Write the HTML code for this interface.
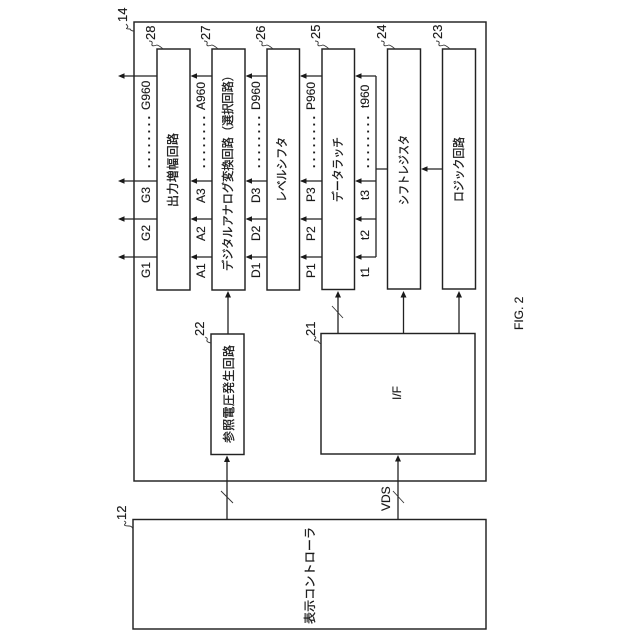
<!DOCTYPE html>
<html><head><meta charset="utf-8"><style>
html,body{margin:0;padding:0;background:#fff;width:640px;height:640px;overflow:hidden}
svg{display:block}
text{font-family:"Liberation Sans","Noto Sans CJK JP",sans-serif;fill:#1a1a1a;font-size:12px;stroke:#1a1a1a;stroke-width:.15}
.j{font-size:12px;stroke-width:.3}
.n{font-size:13px}
.d{font-weight:bold}
.b{fill:none;stroke:#222;stroke-width:1.45}
.l{stroke:#222;stroke-width:1.3;fill:none}
.s{stroke:#333;stroke-width:.9;fill:none}
polygon{fill:#1a1a1a}
</style></head><body>
<svg width="640" height="640" viewBox="0 0 640 640" xmlns="http://www.w3.org/2000/svg">
<rect class="b" x="134" y="22" width="352" height="459"/>
<rect class="b" x="157" y="49" width="33" height="241"/>
<rect class="b" x="212" y="49" width="33" height="241"/>
<rect class="b" x="267" y="49" width="32.500" height="241"/>
<rect class="b" x="322" y="49" width="32.500" height="240.500"/>
<rect class="b" x="387.500" y="49" width="33" height="240"/>
<rect class="b" x="442.500" y="49" width="33" height="240"/>
<rect class="b" x="321" y="333.500" width="154" height="120.500"/>
<rect class="b" x="211" y="334" width="33" height="120.500"/>
<rect class="b" x="133" y="519.500" width="353" height="109.500"/>

<!-- horizontal arrows -->
<path class="l" d="M157 76H120M157 181H120M157 219H120M157 257H120
M212 76H192M212 181H192M212 219H192M212 257H192
M267 76H247M267 181H247M267 219H247M267 257H247
M322 76H301M322 181H301M322 219H301M322 257H301
M376 76H357M376 181H357M376 219H357M376 257H357M376 76V257M376 169H387.500M442.500 169H423"/>
<polygon points="118,76 124.500,73.200 124.500,78.800"/><polygon points="118,181 124.500,178.200 124.500,183.800"/><polygon points="118,219 124.500,216.200 124.500,221.800"/><polygon points="118,257 124.500,254.200 124.500,259.800"/>
<polygon points="190.500,76 197,73.200 197,78.800"/><polygon points="190.500,181 197,178.200 197,183.800"/><polygon points="190.500,219 197,216.200 197,221.800"/><polygon points="190.500,257 197,254.200 197,259.800"/>
<polygon points="245.500,76 252,73.200 252,78.800"/><polygon points="245.500,181 252,178.200 252,183.800"/><polygon points="245.500,219 252,216.200 252,221.800"/><polygon points="245.500,257 252,254.200 252,259.800"/>
<polygon points="300,76 306.500,73.200 306.500,78.800"/><polygon points="300,181 306.500,178.200 306.500,183.800"/><polygon points="300,219 306.500,216.200 306.500,221.800"/><polygon points="300,257 306.500,254.200 306.500,259.800"/>
<polygon points="355,76 361.500,73.200 361.500,78.800"/><polygon points="355,181 361.500,178.200 361.500,183.800"/><polygon points="355,219 361.500,216.200 361.500,221.800"/><polygon points="355,257 361.500,254.200 361.500,259.800"/>
<polygon points="421,169 427.500,166.200 427.500,171.800"/>

<!-- vertical arrows -->
<path class="l" d="M228 334V296M338 333.500V296M403.500 333.500V296M459 333.500V296M227 519.500V460M398 519.500V459"/>
<polygon points="228,291 225,297.500 231,297.500"/><polygon points="338,291 335,297.500 341,297.500"/><polygon points="403.500,291 400.500,297.500 406.500,297.500"/><polygon points="459,291 456,297.500 462,297.500"/>
<polygon points="227,455.500 224,462 230,462"/><polygon points="398,455 395,461.500 401,461.500"/>
<path class="s" d="M332 306L343 318M221 491L233 503M393 491L404 503"/>

<!-- squiggles -->
<path class="s" d="M126 24q3 3 1 4t3 1q1 2 4 2M149 41q4 0 3 3t5 1q3 1 6 4M204 41q4 0 3 3t5 1q3 1 6 4M259 41q4 0 3 3t5 1q3 1 6 4M315 41q4 0 3 3t5 1q3 1 6 4M381 41q4 0 3 3t5 1q3 1 6 4M436 41q4 0 3 3t5 1q3 1 6 4M205 337q3 1 2 3t4 3M314 336q3 1 1 3t3 2q1 2 3 3M124 521q3 1 1 3t4 2q3 0 4 3"/>

<!-- reference numbers -->
<text class="n" transform="translate(127,22) rotate(-90)">14</text>
<text class="n" transform="translate(155,40) rotate(-90)">28</text>
<text class="n" transform="translate(210,40) rotate(-90)">27</text>
<text class="n" transform="translate(265,40) rotate(-90)">26</text>
<text class="n" transform="translate(320,39) rotate(-90)">25</text>
<text class="n" transform="translate(386,39) rotate(-90)">24</text>
<text class="n" transform="translate(442,39) rotate(-90)">23</text>
<text class="n" transform="translate(204,336) rotate(-90)">22</text>
<text class="n" transform="translate(315,336) rotate(-90)">21</text>
<text class="n" transform="translate(126,520) rotate(-90)">12</text>

<!-- block titles -->
<text class="j" transform="translate(177,207) rotate(-90)" textLength="74" lengthAdjust="spacing">出力増幅回路</text>
<text class="j" transform="translate(232,271) rotate(-90)" textLength="201" lengthAdjust="spacingAndGlyphs">デジタルアナログ変換回路（選択回路）</text>
<text class="j" transform="translate(286,202) rotate(-90)" textLength="65" lengthAdjust="spacingAndGlyphs">レベルシフタ</text>
<text class="j" transform="translate(342,202) rotate(-90)" textLength="65" lengthAdjust="spacingAndGlyphs">データラッチ</text>
<text class="j" transform="translate(408,205) rotate(-90)" textLength="70" lengthAdjust="spacingAndGlyphs">シフトレジスタ</text>
<text class="j" transform="translate(463,202) rotate(-90)" textLength="65" lengthAdjust="spacingAndGlyphs">ロジック回路</text>
<text class="j" transform="translate(233,443) rotate(-90)" textLength="98" lengthAdjust="spacing">参照電圧発生回路</text>
<text class="j" transform="translate(314,624) rotate(-90)" textLength="97" lengthAdjust="spacing">表示コントローラ</text>
<text transform="translate(401,400) rotate(-90)">I/F</text>
<text transform="translate(390,511) rotate(-90)">VDS</text>
<text transform="translate(523,330) rotate(-90)">FIG. 2</text>

<!-- G -->
<text transform="translate(150,278) rotate(-90)">G1</text><text transform="translate(150,241) rotate(-90)">G2</text><text transform="translate(150,203) rotate(-90)">G3</text>
<text class="d" transform="translate(150,168) rotate(-90)" textLength="52" lengthAdjust="spacing">........</text><text transform="translate(150,110) rotate(-90)">G960</text>
<!-- A -->
<text transform="translate(205,278) rotate(-90)">A1</text><text transform="translate(205,241) rotate(-90)">A2</text><text transform="translate(205,203) rotate(-90)">A3</text>
<text class="d" transform="translate(205,168) rotate(-90)" textLength="52" lengthAdjust="spacing">........</text><text transform="translate(205,110) rotate(-90)">A960</text>
<!-- D -->
<text transform="translate(260,278) rotate(-90)">D1</text><text transform="translate(260,241) rotate(-90)">D2</text><text transform="translate(260,203) rotate(-90)">D3</text>
<text class="d" transform="translate(260,168) rotate(-90)" textLength="52" lengthAdjust="spacing">........</text><text transform="translate(260,110) rotate(-90)">D960</text>
<!-- P -->
<text transform="translate(315,278) rotate(-90)">P1</text><text transform="translate(315,241) rotate(-90)">P2</text><text transform="translate(315,202) rotate(-90)">P3</text>
<text class="d" transform="translate(315,168) rotate(-90)" textLength="52" lengthAdjust="spacing">........</text><text transform="translate(315,110) rotate(-90)">P960</text>
<!-- t -->
<text transform="translate(369,277) rotate(-90)">t1</text><text transform="translate(369,240) rotate(-90)">t2</text><text transform="translate(369,200) rotate(-90)">t3</text>
<text class="d" transform="translate(369,168) rotate(-90)" textLength="52" lengthAdjust="spacing">........</text><text transform="translate(369,108) rotate(-90)">t960</text>
</svg>
</body></html>
